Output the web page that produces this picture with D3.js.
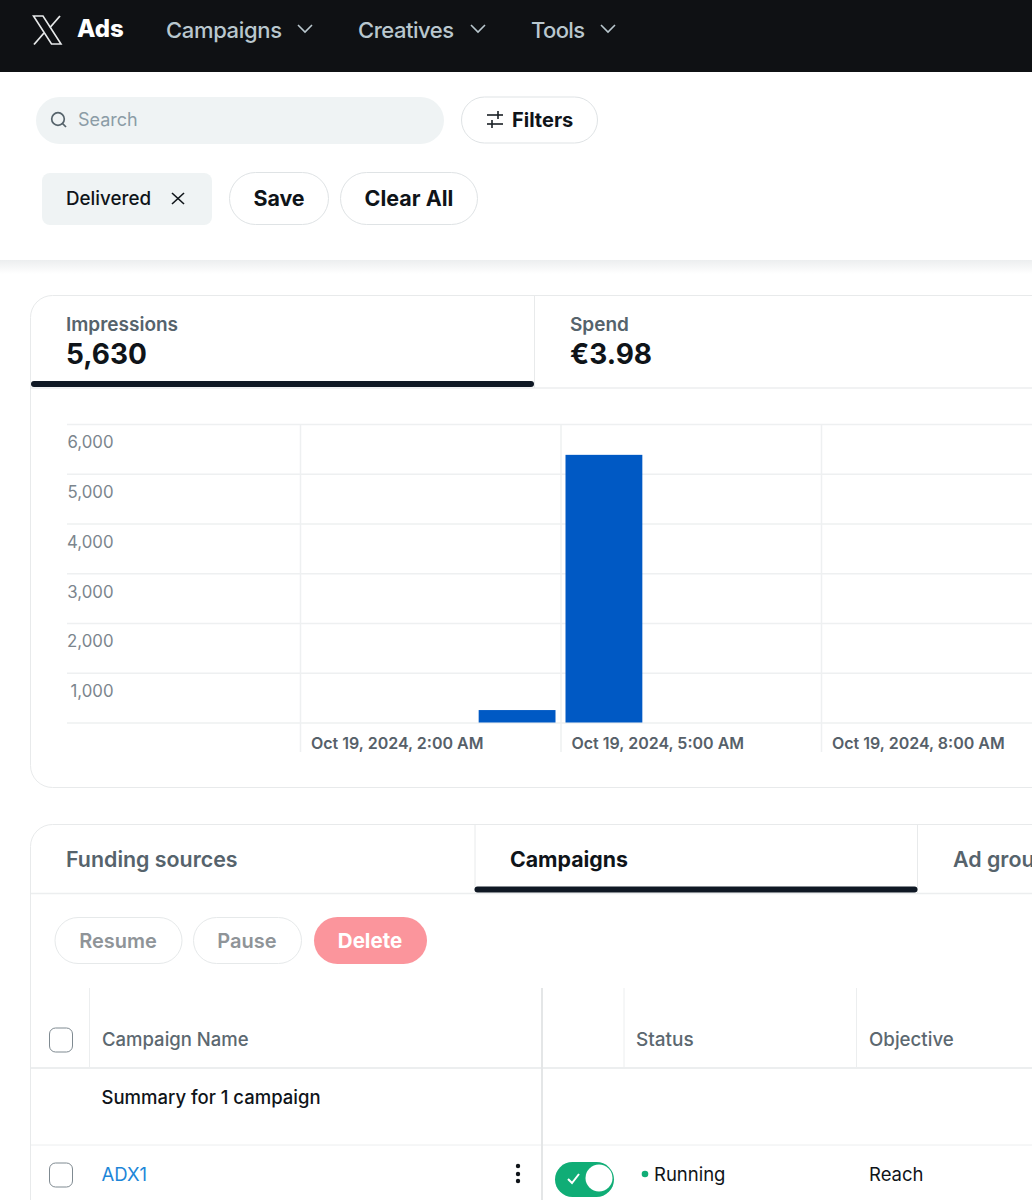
<!DOCTYPE html>
<html>
<head>
  <meta charset="utf-8">
  <style>
    html, body { margin: 0; padding: 0; background: #fff; }
    svg { display: block; }
    text { font-family: Inter, "Noto Sans", sans-serif; }
    .axis path { display: none; }
    .axis line { stroke: #eef0f1; stroke-width: 1.5; }
    .axis text { fill: #7b858d; font-size: 16.8px; }
    .xaxis text { fill: #566069; font-size: 16px; font-weight: 600; }
  </style>
</head>
<body>
  <script src="https://cdn.jsdelivr.net/npm/d3@7"></script>
  <script>
    // chart values
    var hours = [2, 3, 4, 5, 6, 7, 8, 9];
    var impressions = [0, 0, 250, 5380, 0, 0, 0, 0];
    var yTicks = [1000, 2000, 3000, 4000, 5000, 6000];
    var xTickHours = [2, 5, 8];

    // page text
    var navItems = ["Campaigns", "Creatives", "Tools"];
    var tabs = ["Funding sources", "Campaigns", "Ad groups"];
    var actions = ["Resume", "Pause", "Delete"];

    var svg = d3.select("body").append("svg")
      .attr("width", 1032)
      .attr("height", 1200);

    function label(x, y, str, size, weight, color, anchor) {
      return svg.append("text")
        .attr("x", x).attr("y", y)
        .attr("font-size", size)
        .attr("font-weight", weight)
        .attr("fill", color)
        .attr("text-anchor", anchor || "start")
        .text(str);
    }

    function box(x, y, w, h, r, fill, stroke) {
      return svg.append("rect")
        .attr("x", x).attr("y", y)
        .attr("width", w).attr("height", h)
        .attr("rx", r)
        .attr("fill", fill)
        .attr("stroke", stroke || "none");
    }

    function line(x1, y1, x2, y2, color, width) {
      return svg.append("line")
        .attr("x1", x1).attr("y1", y1)
        .attr("x2", x2).attr("y2", y2)
        .attr("stroke", color)
        .attr("stroke-width", width || 1);
    }

    function chevron(x, y, color) {
      svg.append("path")
        .attr("d", "M" + (x - 7) + " " + (y - 4) + "L" + x + " " + (y + 3) + "L" + (x + 7) + " " + (y - 4))
        .attr("fill", "none").attr("stroke", color).attr("stroke-width", 1.6);
    }

    // shadow under the filter panel
    var defs = svg.append("defs");
    var grad = defs.append("linearGradient").attr("id", "shade").attr("x1", 0).attr("x2", 0).attr("y1", 0).attr("y2", 1);
    grad.append("stop").attr("offset", 0).attr("stop-color", "#eceeef");
    grad.append("stop").attr("offset", 1).attr("stop-color", "#ffffff");
    svg.append("rect").attr("x", 0).attr("y", 260).attr("width", 1032).attr("height", 14).attr("fill", "url(#shade)");

    // top bar
    box(0, 0, 1032, 72, 0, "#0f1114");
    // thin X mark, a hollow band and a split stroke
    svg.append("path")
      .attr("d", "M33.5 16H43L61 44H51.5Z")
      .attr("fill", "none").attr("stroke", "#e7e9ea").attr("stroke-width", 1.6);
    line(60, 16, 50, 27.5, "#e7e9ea", 1.8);
    line(44, 33, 34, 44.5, "#e7e9ea", 1.8);
    label(77, 37, "Ads", 24, 800, "#ffffff");
    var navX = [166, 358, 531], navChevron = [305, 478, 608];
    navItems.forEach(function(d, i) {
      label(navX[i], 38, d, 22, 500, "#b9c7ce").attr("textLength", [116, 96, 54][i]);
      chevron(navChevron[i], 29, "#b9c7ce");
    });

    // search and filters
    box(36, 97, 408, 47, 23.5, "#eff3f4");
    svg.append("circle").attr("cx", 58).attr("cy", 119).attr("r", 6.3).attr("fill", "none").attr("stroke", "#56636b").attr("stroke-width", 1.7);
    line(62.5, 123.5, 66, 127, "#56636b", 1.7);
    label(78, 126, "Search", 18, 400, "#8b9ca6");
    box(461.5, 97, 136, 46, 23, "#fff", "#dfe3e5");
    line(487, 115, 503, 115, "#1a2025", 1.6);
    line(487, 124, 503, 124, "#1a2025", 1.6);
    line(498, 111, 498, 119, "#1a2025", 1.6);
    line(492, 120, 492, 128, "#1a2025", 1.6);
    label(512, 126.5, "Filters", 20, 700, "#0f1419");

    box(42, 173, 170, 52, 8, "#eff3f4");
    label(66, 205, "Delivered", 18.8, 500, "#0f1419");
    line(172, 193, 184, 204, "#0f1419", 1.6);
    line(184, 193, 172, 204, "#0f1419", 1.6);
    box(229.5, 172.5, 99, 52, 26, "#fff", "#dfe3e5");
    label(279, 206, "Save", 21.4, 700, "#0f1419", "middle");
    box(340.5, 172.5, 137, 52, 26, "#fff", "#dfe3e5");
    label(409, 206, "Clear All", 21.5, 700, "#0f1419", "middle");

    // chart card
    box(30.5, 295.5, 1040, 492, 22, "#fff", "#e8eaeb");
    line(31, 388, 1032, 388, "#eceeef", 1.5);
    line(534.5, 296, 534.5, 388, "#e8eaeb", 1);
    label(66, 331, "Impressions", 19, 600, "#56636c");
    label(66, 364, "5,630", 28, 700, "#0f1419");
    label(570, 331, "Spend", 19, 600, "#56636c");
    label(570, 364, "\u20ac3.98", 28, 700, "#0f1419");
    line(34, 384, 531, 384, "#0f1824", 6).attr("stroke-linecap", "round");

    // scales, one hour is about 86.8px
    var t = function(h) { return new Date(2024, 9, 19, h); };
    var x = d3.scaleTime().domain([t(2), t(8)]).range([300, 821]);
    var y = d3.scaleLinear().domain([0, 6000]).range([722.5, 424]);
    var plotLeft = 67, plotRight = 1032;

    // horizontal grid, the labels hang below each line
    var yAxis = d3.axisLeft(y)
      .tickValues([0].concat(yTicks))
      .tickSize(plotLeft - plotRight)
      .tickFormat(function(d) { return d ? d3.format(",")(d) : ""; });
    var gy = svg.append("g").attr("class", "axis")
      .attr("transform", "translate(" + plotLeft + ",0)")
      .call(yAxis);
    gy.selectAll("text")
      .attr("x", 46.5)
      .attr("dy", "1.42em")
      .attr("text-anchor", "end");

    // vertical grid
    var fmt = d3.timeFormat("Oct %-d, %Y, %-I:%M %p");
    var xAxis = d3.axisBottom(x)
      .tickValues(xTickHours.map(t))
      .tickSize(0)
      .tickFormat(fmt);
    var gx = svg.append("g").attr("class", "axis xaxis")
      .attr("transform", "translate(0,424)")
      .call(xAxis);
    gx.selectAll(".tick line").attr("y2", 328);
    gx.selectAll("text")
      .attr("text-anchor", "start")
      .attr("x", 10.5)
      .attr("y", 325)
      .attr("dy", 0);

    // bars
    var barPad = 5;
    svg.append("g").selectAll("rect")
      .data(hours.map(function(h, i) { return { h: h, v: impressions[i] }; }).filter(function(d) { return d.v > 0; }))
      .enter().append("rect")
      .attr("x", function(d) { return x(t(d.h)) + barPad; })
      .attr("width", function(d) { return x(t(d.h + 1)) - x(t(d.h)) - barPad * 2; })
      .attr("y", function(d) { return y(d.v); })
      .attr("height", function(d) { return y(0) - y(d.v); })
      .attr("fill", "#0059c4");

    // table card
    box(30.5, 824.5, 1040, 420, 22, "#fff", "#e8eaeb");
    line(31, 893.5, 1032, 893.5, "#eceeef", 1.5);
    line(475, 825, 475, 893, "#e8eaeb", 1);
    line(917.5, 825, 917.5, 893, "#e8eaeb", 1);
    label(66, 867, tabs[0], 21.4, 600, "#56636c");
    label(510, 867, tabs[1], 21.3, 700, "#0f1419");
    label(953, 867, tabs[2], 21.4, 600, "#56636c");
    line(477.5, 889.5, 914.5, 889.5, "#0f1824", 6).attr("stroke-linecap", "round");

    box(55, 917.5, 127, 46, 23, "#fff", "#e6e9ea");
    label(118, 948, actions[0], 20, 600, "#8f9498", "middle");
    box(193.5, 917.5, 108, 46, 23, "#fff", "#e6e9ea");
    label(247, 948, actions[1], 20, 600, "#8f9498", "middle");
    box(314, 917, 113, 47, 23.5, "#fb959c");
    label(370, 948, actions[2], 20.5, 700, "#ffffff", "middle");

    // table rows
    line(31, 1068, 1032, 1068, "#eceeef", 2);
    line(31, 1145, 1032, 1145, "#eceeef", 1);
    line(89.5, 988, 89.5, 1068, "#eceeef", 1);
    line(542, 988, 542, 1200, "#e4e6e7", 2);
    line(624, 988, 624, 1068, "#eceeef", 1);
    line(856.5, 988, 856.5, 1068, "#eceeef", 1);
    box(49.5, 1028, 23, 24, 6, "#fff", "#7f8a91");
    label(102, 1046, "Campaign Name", 18.5, 500, "#5c6870");
    label(636, 1046, "Status", 19, 500, "#5c6870");
    label(869, 1046, "Objective", 18.7, 500, "#5c6870");
    label(101.5, 1104, "Summary for 1 campaign", 18.5, 500, "#0f1419");

    box(49.5, 1163, 23, 24, 6, "#fff", "#7f8a91");
    label(101.5, 1181, "ADX1", 18.5, 400, "#1d86d8");
    [1166, 1174, 1181].forEach(function(cy) {
      svg.append("circle").attr("cx", 518).attr("cy", cy).attr("r", 2.2).attr("fill", "#0f1419");
    });
    box(555, 1162, 59, 35, 17.5, "#10ad76");
    svg.append("circle").attr("cx", 599).attr("cy", 1178).attr("r", 13.5).attr("fill", "#fff");
    svg.append("path").attr("d", "M568 1179L572 1183L579 1174").attr("fill", "none").attr("stroke", "#fff").attr("stroke-width", 2);
    svg.append("circle").attr("cx", 645).attr("cy", 1174).attr("r", 3.3).attr("fill", "#10ad76");
    label(654, 1181, "Running", 18.5, 400, "#0f1419");
    label(869, 1181, "Reach", 18.5, 400, "#0f1419");
  </script>
</body>
</html>
